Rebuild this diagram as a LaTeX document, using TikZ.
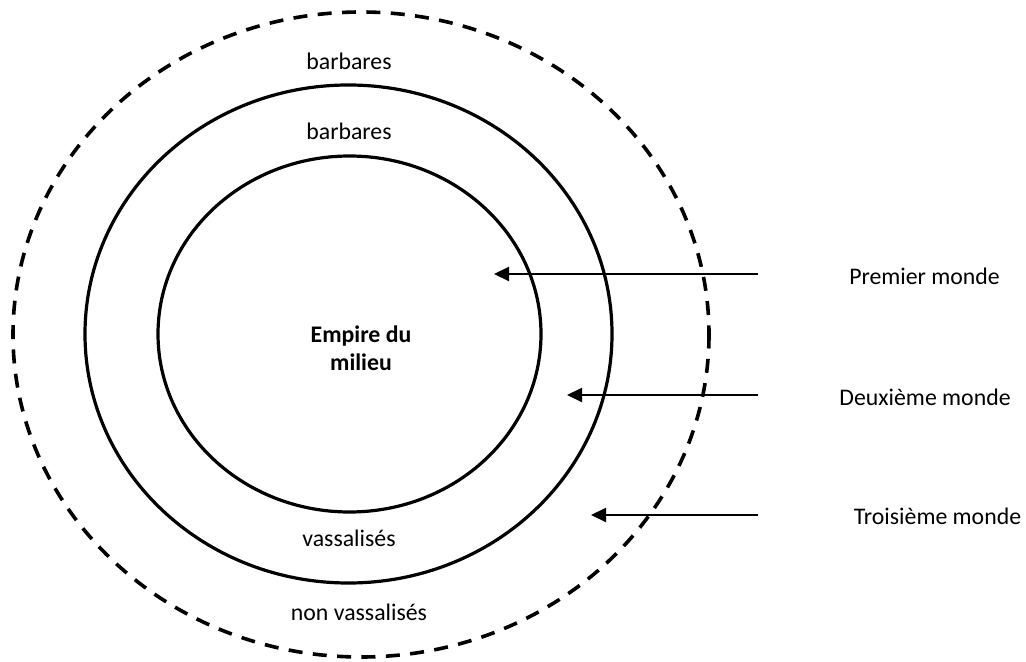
\documentclass[tikz,border=0pt]{standalone}
\usepackage{fontspec}
\setmainfont{Carlito}
\usetikzlibrary{arrows.meta}
\begin{document}
\begin{tikzpicture}[x=0.5pt,y=-0.5pt,
  ring/.style={line width=1.6pt},
  dashring/.style={line width=1.8pt,dash pattern=on 7pt off 5.2pt},
  lbl/.style={inner sep=0pt,font=\fontsize{11.9}{14.3}\selectfont},
  arr/.style={line width=1.1pt,-{Triangle[length=7.5pt,width=7pt]}}]
\useasboundingbox (0,0) rectangle (1026,662);
\draw[dashring] (361,334.5) ellipse [x radius=348, y radius=322.5];
\draw[ring] (348.5,334) ellipse [x radius=263.5, y radius=249];
\draw[ring] (349.5,334) ellipse [x radius=191.5, y radius=178];
\node[lbl] (b1) at (349,61) {barbares};
\node[lbl] (b2) at (349,131) {barbares};
\node[lbl] (v1) at (349,538) {vassalisés};
\node[lbl] (v2) at (359,612) {non vassalisés};
\node[lbl,font=\fontsize{11.9}{14}\selectfont\bfseries,align=center] (emp) at (361,348) {Empire du\\milieu};
\node[lbl] (p1) at (924.5,276) {Premier monde};
\node[lbl] (p2) at (925,397) {Deuxième monde};
\node[lbl] (p3) at (937.5,516) {Troisième monde};
\coordinate (s1) at (758,274);
\coordinate (t1) at (494,274);
\coordinate (s2) at (758,395);
\coordinate (t2) at (567,395);
\coordinate (s3) at (758,515);
\coordinate (t3) at (591,515);
\draw[arr] (s1) -- (t1);
\draw[arr] (s2) -- (t2);
\draw[arr] (s3) -- (t3);
\end{tikzpicture}
\end{document}
